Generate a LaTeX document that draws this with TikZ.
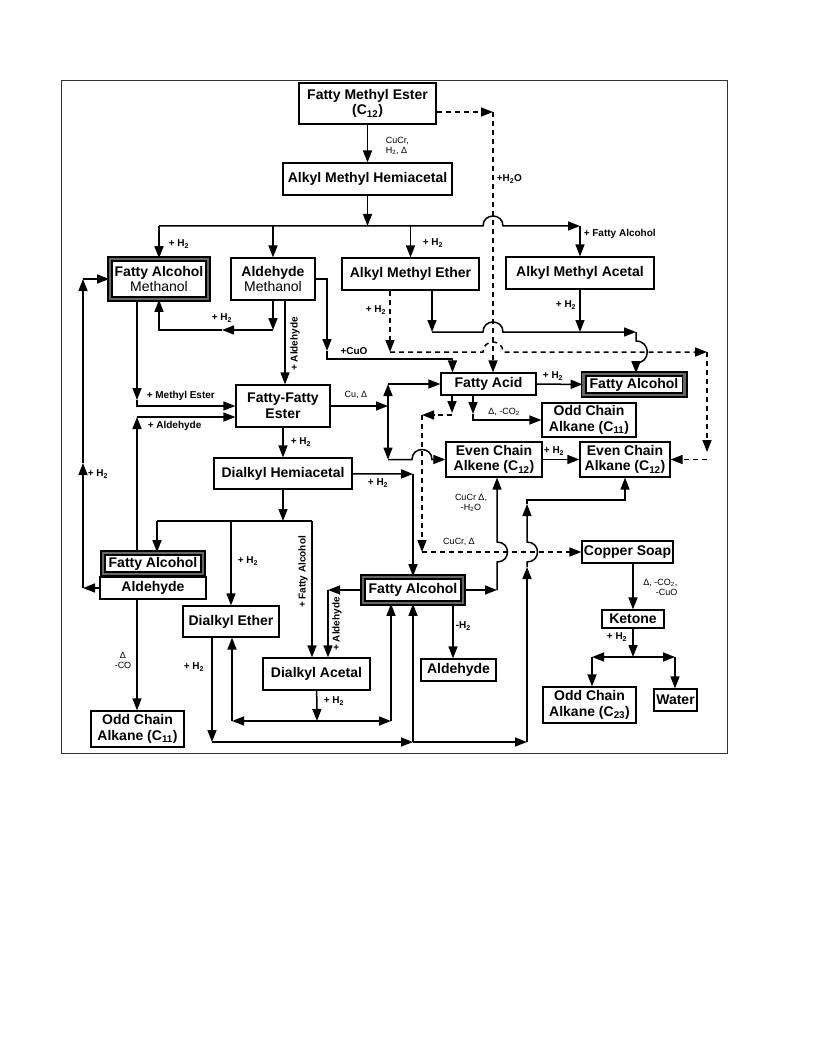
\documentclass[tikz,border=0pt]{standalone}
\usepackage{fontspec}
\setmainfont{Liberation Sans}
\usetikzlibrary{arrows.meta}
\tikzset{
  box/.style={draw,line width=1.2pt,fill=white,align=center,inner sep=1pt,font=\bfseries\fontsize{14}{15.5}\selectfont},
  thickbox/.style={box,line width=1.7pt,double=black!60,double distance=2.6pt},
  sz/.style 2 args={minimum width=#1pt,minimum height=#2pt},
  lbl/.style={inner sep=1pt,font=\bfseries\fontsize{10}{11}\selectfont},
  note/.style={inner sep=1pt,align=center,font=\fontsize{9}{10}\selectfont},
  dsh/.style={dash pattern=on 5pt off 4pt}}
\begin{document}
\begin{tikzpicture}[x=1pt,y=-1pt,line width=1.5pt,>={Triangle[length=12pt,width=9pt]}]
      \useasboundingbox (0,0) rectangle (816,1056);
      \draw[line width=1pt,black!80] (61,81) rectangle (727,753);
      \node[box,sz={137}{41}] (fme) at (367.5,103.5) {Fatty Methyl Ester\\(C\textsubscript{12})};
      \node[box,sz={169}{32}] (amh) at (367.5,179) {Alkyl Methyl Hemiacetal};
      \node[thickbox,sz={98}{40}] (fam) at (159,279) {Fatty Alcohol\\{\mdseries Methanol}};
      \node[box,sz={84}{42}] (aldm) at (273,279) {Aldehyde\\{\mdseries Methanol}};
      \node[box,sz={137}{32}] (ame) at (410.5,274) {Alkyl Methyl Ether}; \node[box,sz={148}{32}] (ama) at (580,273) {Alkyl Methyl Acetal};
      \node[box,sz={94}{42}] (ffe) at (283,406) {Fatty-Fatty\\Ester}; \node[box,sz={138}{31}] (dh) at (283,473.5) {Dialkyl Hemiacetal};
      \node[box,sz={95}{22}] (fa) at (488.5,384) {Fatty Acid}; \node[thickbox,sz={101}{21}] (falc) at (634,384.5) {Fatty Alcohol};
      \node[box,sz={94}{34}] (oca) at (589,420) {Odd Chain\\Alkane (C\textsubscript{11})};
      \node[box,sz={96}{35}] (ecene) at (494,459.5) {Even Chain\\Alkene (C\textsubscript{12})};
      \node[box,sz={90}{35}] (ecane) at (625,459.5) {Even Chain\\Alkane (C\textsubscript{12})};
      \node[thickbox,sz={100}{21}] (faldA) at (153,563.5) {Fatty Alcohol}; \node[box,sz={106}{22}] (faldB) at (153,588) {Aldehyde};
      \node[box,sz={96}{31}] (de) at (231,621.5) {Dialkyl Ether}; \node[box,sz={107}{32}] (da) at (316.5,674) {Dialkyl Acetal};
      \node[box,sz={93}{36}] (ocal) at (137.5,729) {Odd Chain\\Alkane (C\textsubscript{11})};
      \node[thickbox,sz={100}{26}] (fam2) at (413,590) {Fatty Alcohol}; \node[box,sz={75}{22}] (ald) at (458.5,670) {Aldehyde};
      \node[box,sz={91}{22}] (cs) at (627.5,552) {Copper Soap}; \node[box,sz={62}{18}] (ket) at (633,619) {Ketone};
      \node[box,sz={93}{36}] (oc23) at (589.5,705) {Odd Chain\\Alkane (C\textsubscript{23})}; \node[box,sz={43}{22}] (water) at (675.5,700) {Water};
      \node[note,align=left,anchor=west] (t1) at (384,146) {CuCr,\\H\textsubscript{2}, Δ};
      \node[lbl,anchor=west] (t2) at (495,179) {+H\textsubscript{2}O};
      \node[lbl,anchor=west] (t3) at (167,244) {+ H\textsubscript{2}}; \node[lbl,anchor=west] (t4) at (421,243) {+ H\textsubscript{2}};
      \node[lbl,anchor=west] (t5) at (582,234) {+ Fatty Alcohol};
      \node[lbl,anchor=west] (t6) at (210,318) {+ H\textsubscript{2}}; \node[lbl,rotate=90] (t7) at (295,344) {+ Aldehyde};
      \node[lbl] (t8) at (354,351) {+CuO}; \node[lbl] (t9) at (376,310) {+ H\textsubscript{2}}; \node[lbl] (t10) at (566,305) {+ H\textsubscript{2}};
      \node[lbl] (t11) at (553,376) {+ H\textsubscript{2}}; \node[note] (t12) at (504,412) {Δ, -CO\textsubscript{2}};
      \node[lbl,anchor=west] (t13) at (145,396) {+ Methyl Ester}; \node[lbl,anchor=west] (t14) at (146,426) {+ Aldehyde};
      \node[note] (t15) at (356,395) {Cu, Δ}; \node[lbl,anchor=west] (t16) at (289,442) {+ H\textsubscript{2}};
      \node[lbl,anchor=west] (t17) at (86,474) {+ H\textsubscript{2}}; \node[lbl] (t18) at (378,483) {+ H\textsubscript{2}};
      \node[lbl] (t19) at (554,451) {+ H\textsubscript{2}}; \node[note] (t20) at (471,503) {CuCr Δ,\\-H\textsubscript{2}O};
      \node[note] (t21) at (459,542) {CuCr, Δ}; \node[lbl,anchor=west] (t22) at (236,561) {+ H\textsubscript{2}};
      \node[lbl,rotate=90] (t23) at (303,572) {+ Fatty Alcohol}; \node[lbl,rotate=90] (t24) at (337,624) {+ Aldehyde};
      \node[lbl,anchor=west] (t25) at (322,701) {+ H\textsubscript{2}}; \node[lbl] (t26) at (194,667) {+ H\textsubscript{2}};
      \node[note] (t27) at (123,660) {Δ\\-CO}; \node[lbl,anchor=west] (t28) at (454,626) {-H\textsubscript{2}};
      \node[note,align=right,anchor=east] (t29) at (679,587) {Δ, -CO\textsubscript{2},\\-CuO}; \node[lbl] (t30) at (617,637) {+ H\textsubscript{2}};
      \coordinate (w1) at (493,112); \coordinate (j1) at (159,226); \coordinate (j2) at (580,226);
      \draw[->] (fme) to (amh);
      \draw[->,dsh] (fme.east |- w1) to (w1);
      \draw[->,dsh] (w1) to (w1 |- fa.north);
      \draw[->] (amh) to (amh |- j1);
      \draw[->] (j1) -- (483,226) .. controls (483,212.7) and (503,212.7) .. (503,226) -- (j2);
      \draw[->] (j1) to (fam); \draw[->] (aldm |- j1) to (aldm); \draw[->] (ame |- j1) to (ame); \draw[->] (j2) to (ama);
      \coordinate (k1) at (273,330); \coordinate (k2) at (222,330); \coordinate (k3) at (159,330);
      \draw[->] (aldm) to (k1); \draw[->] (k1) to (k2); \draw[->] (k2) -- (k3) -- (fam);
      \draw[->] ([xshift=12pt]aldm.south) to ([xshift=12pt]aldm.south |- ffe.north);
      \coordinate (m1) at (327,351); \coordinate (m2) at (327,359);
      \draw[->] (aldm.east) -| (m1);
      \draw[->] (m1) -- (m2) -| ([xshift=-36pt]fa.north);
      \coordinate (n1) at (390,352); \coordinate (n3) at (707,352); \coordinate (n4) at (707,452);
      \draw[->,dsh] (ame.south -| n1) to (n1);
      \draw[->,dsh] (n1) -- (483,352) .. controls (483,338.7) and (503,338.7) .. (503,352) -- (n3);
      \draw[->,dsh] (n3) to (n4);
      \draw[->,dsh] (n4 |- ecane.east) to (ecane.east);
      \coordinate (p1) at (432,332); \coordinate (p2) at (636,332);
      \draw[->] (ame.south -| p1) to (p1);
      \draw[->] (p1) -- (483,332) .. controls (483,318.7) and (503,318.7) .. (503,332) -- (p2);
      \draw[->] (p2) -- (636,341) .. controls (651,341) and (651,363) .. (636,363) -- (p2 |- falc.north);
      \draw[->] (ama) to (ama |- p1);
      \draw[->] (fa) to (falc);
      \coordinate (q1) at (473,414);
      \draw[->] (fa.south -| q1) to (q1); \draw[->] (q1) |- (oca.west);
      \coordinate (s1) at (452,413); \coordinate (s2) at (422,415); \coordinate (s3) at (422,552);
      \draw[->,dsh] (fa.south -| s1) to (s1);
      \draw[->,dsh] (s1 |- s2) to (s2);
      \draw[->,dsh] (s2) to (s3);
      \draw[->,dsh] (s3) to (s3 -| cs.west);
      \coordinate (u1) at (388,406); \coordinate (u2) at (388,384); \coordinate (u3) at (388,459.5);
      \draw[->] (ffe) to (u1); \draw[->] (u1) to (u2); \draw[->] (u2) to (fa); \draw[->] (u1) to (u3);
      \draw[->] (u3) -- (412,459.5) .. controls (412,446.2) and (432,446.2) .. (432,459.5) -- (ecene);
      \draw[->] (ecene) to (ecane);
      \draw[->] (ffe) to (dh);
      \coordinate (v1) at (413,474); \coordinate (v2) at (283,521);
      \draw[->] (dh) to (v1); \draw[->] (v1) to (fam2);
      \draw[->] (dh) to (v2);
      \coordinate (w2) at (157,521); \coordinate (w3) at (312,521); \coordinate (w4) at (231,521);
      \draw (w2) -- (w3);
      \draw[->] (w2) to (w2 |- faldA.north); \draw[->] (w4) to (de); \draw[->] (w3) to (w3 |- da.north);
      \coordinate (x1) at (328,590); \coordinate (x2) at (317,721); \coordinate (x3) at (232,721); \coordinate (x4) at (391,721);
      \draw[->] (fam2) to (x1); \draw[->] (x1) to (x1 |- da.north);
      \draw[->] (da) to (x2); \draw[->] (x2) to (x3); \draw[->] (x3) to (x3 |- de.south);
      \draw[->] (x2) to (x4); \draw[->] (x4) to (x4 |- fam2.south);
      \coordinate (y1) at (212,742); \coordinate (y2) at (413,742); \coordinate (y3) at (527,742);
      \coordinate (y4) at (527,567); \coordinate (y5) at (527,504);
      \draw[->] (de.south -| y1) to (y1); \draw[->] (y1) to (y2); \draw[->] (y2) to (fam2); \draw[->] (y2) to (y3);
      \draw[->] (y3) to (y4);
      \draw[->] (y4) -- (527,562) .. controls (541,562) and (541,542) .. (527,542) -- (y5);
      \draw[->] (y5) -- (527,500) -| (ecane);
      \coordinate (z1) at (497,590);
      \draw[->] (fam2) to (z1);
      \draw[->] (z1) -- (497,562) .. controls (511,562) and (511,542) .. (497,542) -- (z1 |- ecene.south);
      \draw[->] ([xshift=40pt]fam2.south) to ([xshift=40pt]fam2.south |- ald.north);
      \coordinate (g1) at (83,588); \coordinate (g2) at (83,463); \coordinate (g3) at (83,279);
      \draw[->] (faldB) to (g1); \draw[->] (g1) to (g2); \draw[->] (g2) to (g3); \draw[->] (g3) to (fam);
      \coordinate (h1) at (137,400); \coordinate (h2) at (137,417);
      \draw[->] (h1 |- fam.south) to (h1); \draw[->] (h1) |- (ffe.west);
      \draw[->] (faldA.north -| h2) to (h2); \draw[->] (h2) to (h2 -| ffe.west);
      \draw[->] (faldB.south -| h2) to (h2 |- ocal.north);
      \coordinate (o1) at (633,657); \coordinate (o2) at (592,657); \coordinate (o3) at (675,657);
      \draw[->] (ket |- cs.south) to (ket); \draw[->] (ket) to (o1);
      \draw[->] (o1) to (o2); \draw[->] (o2) to (o2 |- oc23.north);
      \draw[->] (o1) to (o3); \draw[->] (o3) to (o3 |- water.north);
    \end{tikzpicture}
\end{document}
